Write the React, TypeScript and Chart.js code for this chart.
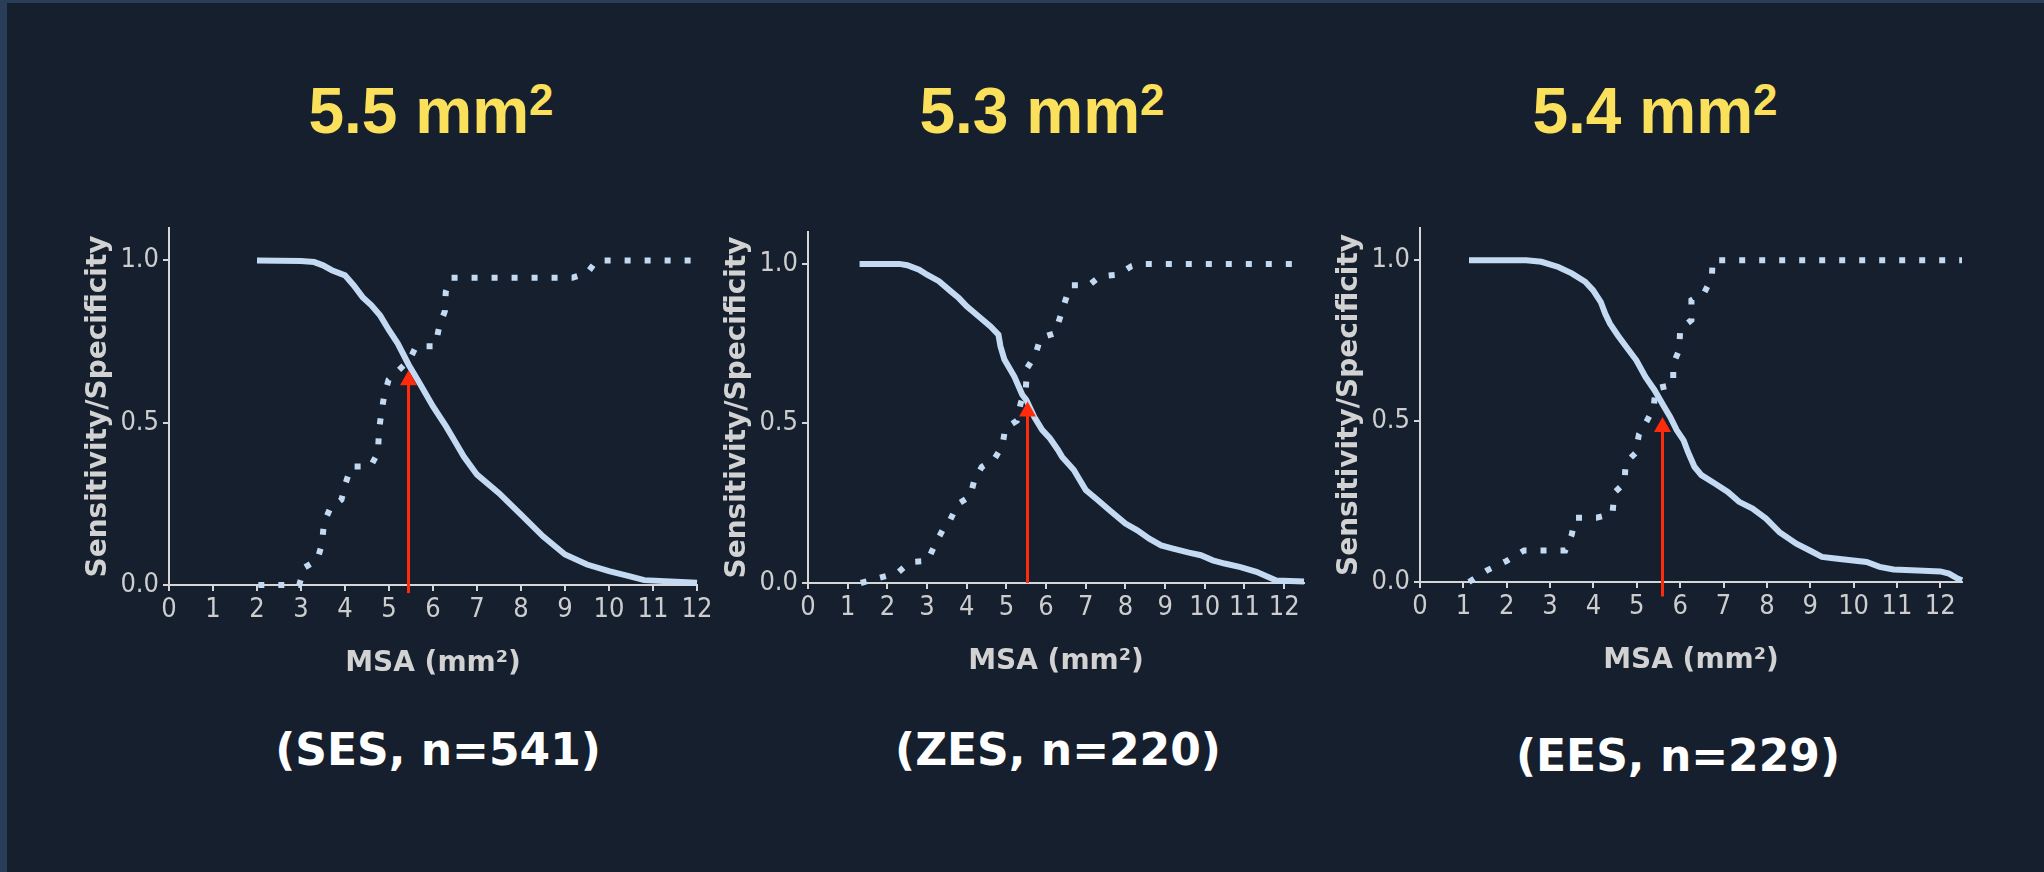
import React, { useEffect, useRef } from 'react';
import { Chart, registerables } from 'chart.js';

Chart.register(...registerables);

// ---------- data ----------
const cutoffTitles = ['5.5', '5.3', '5.4'];
const groupLabels = ['(SES, n=541)', '(ZES, n=220)', '(EES, n=229)'];
const xTickValues = [0, 1, 2, 3, 4, 5, 6, 7, 8, 9, 10, 11, 12];
const yTickValues = [0, 0.5, 1.0];
const xMaxes = [12, 12.5, 12.5];
const xAxisTitle = 'MSA (mm²)';
const yAxisTitle = 'Sensitivity/Specificity';

// SES – sensitivity (solid) and specificity (dotted)
const sesSensX = [2.0, 3.0, 3.3, 3.5, 3.7, 4.0, 4.2, 4.4, 4.6, 4.8, 5.0, 5.2, 5.45, 5.7, 6.0, 6.3, 6.5, 6.7, 7.0, 7.5, 8.0, 8.5, 9.0, 9.5, 10.0, 10.5, 10.8, 12.0];
const sesSensY = [1.0, 0.998, 0.995, 0.985, 0.97, 0.954, 0.923, 0.887, 0.862, 0.83, 0.785, 0.744, 0.678, 0.621, 0.55, 0.488, 0.442, 0.396, 0.34, 0.283, 0.217, 0.15, 0.094, 0.063, 0.043, 0.026, 0.015, 0.007];
const sesSpecX = [2.03, 2.96, 3.07, 3.37, 3.48, 3.52, 3.66, 3.92, 4.02, 4.14, 4.58, 4.75, 4.77, 4.82, 4.89, 4.99, 5.46, 5.62, 6.05, 6.14, 6.27, 6.29, 6.41, 9.17, 9.51, 9.72, 12.0];
const sesSpecY = [0, 0, 0.053, 0.077, 0.128, 0.191, 0.235, 0.263, 0.316, 0.365, 0.365, 0.408, 0.47, 0.526, 0.583, 0.632, 0.693, 0.736, 0.736, 0.795, 0.844, 0.903, 0.947, 0.947, 0.962, 1.0, 1.0];

// ZES
const zesSensX = [1.3, 2.3, 2.5, 2.8, 3.0, 3.3, 3.6, 3.8, 4.0, 4.2, 4.4, 4.6, 4.8, 4.85, 4.95, 5.2, 5.4, 5.5, 5.7, 5.9, 6.1, 6.3, 6.4, 6.7, 6.8, 7.0, 7.3, 7.6, 8.0, 8.3, 8.6, 8.9, 9.2, 9.6, 9.9, 10.2, 10.5, 10.9, 11.3, 11.6, 11.8, 12.5];
const zesSensY = [1.0, 1.0, 0.996, 0.982, 0.966, 0.946, 0.914, 0.893, 0.867, 0.846, 0.825, 0.804, 0.778, 0.742, 0.70, 0.647, 0.59, 0.574, 0.521, 0.48, 0.453, 0.417, 0.396, 0.354, 0.333, 0.291, 0.26, 0.228, 0.186, 0.165, 0.139, 0.118, 0.108, 0.095, 0.087, 0.071, 0.061, 0.05, 0.035, 0.019, 0.008, 0.005];
const zesSpecX = [1.33, 1.79, 2.25, 2.57, 3.01, 3.19, 3.39, 3.59, 3.77, 4.09, 4.19, 4.38, 4.69, 4.9, 4.97, 5.26, 5.36, 5.49, 5.52, 5.73, 5.86, 6.23, 6.35, 6.48, 6.61, 7.08, 7.36, 7.81, 8.15, 8.33, 12.5];
const zesSpecY = [0, 0.016, 0.031, 0.066, 0.069, 0.118, 0.165, 0.199, 0.247, 0.272, 0.322, 0.364, 0.387, 0.43, 0.485, 0.508, 0.563, 0.61, 0.673, 0.715, 0.768, 0.783, 0.832, 0.883, 0.933, 0.933, 0.961, 0.966, 0.993, 1.0, 1.0];

// EES
const eesSensX = [1.13, 2.45, 2.8, 3.19, 3.5, 3.81, 3.99, 4.17, 4.27, 4.38, 4.56, 4.79, 4.99, 5.2, 5.41, 5.61, 5.77, 5.92, 6.08, 6.18, 6.33, 6.49, 6.8, 7.1, 7.36, 7.67, 7.98, 8.29, 8.68, 8.99, 9.27, 9.58, 9.99, 10.3, 10.6, 10.92, 11.48, 12.0, 12.2, 12.41, 12.5];
const eesSensY = [1.0, 1.0, 0.995, 0.979, 0.959, 0.933, 0.907, 0.87, 0.834, 0.803, 0.767, 0.725, 0.689, 0.637, 0.596, 0.549, 0.513, 0.472, 0.44, 0.404, 0.358, 0.332, 0.306, 0.28, 0.249, 0.228, 0.197, 0.155, 0.119, 0.098, 0.078, 0.073, 0.067, 0.062, 0.047, 0.039, 0.036, 0.033, 0.026, 0.01, 0.005];
const eesSpecX = [1.13, 1.545, 1.99, 2.4, 2.88, 3.35, 3.5, 3.58, 4.07, 4.44, 4.48, 4.72, 4.74, 4.97, 5.05, 5.23, 5.39, 5.43, 5.84, 5.84, 5.98, 6.0, 6.26, 6.26, 6.56, 6.73, 6.75, 12.5];
const eesSpecY = [0, 0.036, 0.065, 0.098, 0.098, 0.098, 0.147, 0.2, 0.2, 0.212, 0.277, 0.308, 0.37, 0.401, 0.459, 0.5, 0.541, 0.601, 0.613, 0.677, 0.722, 0.785, 0.814, 0.876, 0.9, 0.946, 1.0, 1.0];

// red arrows: x position, tip value, bottom value
const arrowX = [5.43, 5.52, 5.57];
const arrowTip = [0.662, 0.569, 0.513];
const arrowBottom = [-0.025, 0, -0.045];

// ---------- styling / layout ----------
const BG = '#151f2e';
const EDGE = '#2a3d58';
const CURVE = '#c4daf3';
const AXIS = '#d6d6d6';
const TICK_TEXT = '#cdcdcd';
const YELLOW = '#fbe05c';
const RED = '#ff2b0c';
const TICK_FONT = "'DejaVu Sans Condensed', 'Liberation Sans', sans-serif";

const panelBoxes = [
  { left: 69, top: 198, width: 658, height: 487 },
  { left: 708, top: 202, width: 626, height: 481 },
  { left: 1320, top: 198, width: 672, height: 484 },
];
const titleCenters = [431, 1042, 1655];
const labelPos = [
  { cx: 438, top: 728 },
  { cx: 1058, top: 728 },
  { cx: 1678, top: 734 },
];

const zip = (xs: number[], ys: number[]) => xs.map((x, i) => ({ x, y: ys[i] }));

const series = [
  { sens: zip(sesSensX, sesSensY), spec: zip(sesSpecX, sesSpecY) },
  { sens: zip(zesSensX, zesSensY), spec: zip(zesSpecX, zesSpecY) },
  { sens: zip(eesSensX, eesSensY), spec: zip(eesSpecX, eesSpecY) },
];

const arrowPlugin = {
  id: 'cutArrow',
  afterDatasetsDraw(chart: any, _args: any, opts: any) {
    const { ctx, scales } = chart;
    const px = Math.round(scales.x.getPixelForValue(opts.x)) + 0.5;
    const pTip = scales.y.getPixelForValue(opts.tip);
    const pBot = scales.y.getPixelForValue(opts.bottom);
    const h = 15;
    const w = 17;
    ctx.save();
    ctx.strokeStyle = RED;
    ctx.lineWidth = 3;
    ctx.beginPath();
    ctx.moveTo(px, pBot);
    ctx.lineTo(px, pTip + h - 1);
    ctx.stroke();
    ctx.fillStyle = RED;
    ctx.beginPath();
    ctx.moveTo(px, pTip);
    ctx.lineTo(px - w / 2, pTip + h);
    ctx.lineTo(px + w / 2, pTip + h);
    ctx.closePath();
    ctx.fill();
    ctx.restore();
  },
};

function Panel({ idx }: { idx: number }) {
  const ref = useRef<HTMLCanvasElement | null>(null);
  const box = panelBoxes[idx];
  useEffect(() => {
    if (!ref.current) return;
    const s = series[idx];
    const chart = new Chart(ref.current, {
      type: 'line',
      data: {
        datasets: [
          {
            data: s.sens,
            borderColor: CURVE,
            borderWidth: 6,
            pointRadius: 0,
            tension: 0,
            clip: false as any,
            borderCapStyle: 'butt',
          },
          {
            data: s.spec,
            borderColor: CURVE,
            borderWidth: 6,
            borderDash: [6, 14],
            pointRadius: 0,
            tension: 0,
            clip: false as any,
            borderCapStyle: 'butt',
          },
        ],
      },
      options: {
        animation: false,
        responsive: false,
        devicePixelRatio: 1,
        parsing: false,
        layout: { padding: { top: 30, right: 30, left: 0, bottom: 0 } },
        plugins: {
          legend: { display: false },
          tooltip: { enabled: false },
          cutArrow: { x: arrowX[idx], tip: arrowTip[idx], bottom: arrowBottom[idx] },
        } as any,
        scales: {
          x: {
            type: 'linear',
            min: 0,
            max: xMaxes[idx],
            afterBuildTicks: (sc: any) => {
              sc.ticks = xTickValues.map((v) => ({ value: v }));
            },
            afterFit: (sc: any) => {
              sc.height = 100;
            },
            grid: {
              display: true,
              drawOnChartArea: false,
              drawTicks: true,
              tickLength: 6,
              color: AXIS,
              lineWidth: 2,
            },
            border: { display: true, color: AXIS, width: 2 },
            ticks: {
              color: TICK_TEXT,
              font: { family: TICK_FONT, size: 27 },
              padding: 3,
              maxRotation: 0,
              autoSkip: false,
              callback: (v: any) => String(v),
            },
            title: {
              display: true,
              text: xAxisTitle,
              color: '#d2d2d2',
              font: { family: 'DejaVu Sans', weight: 'bold', size: 28 },
              padding: { top: 0, bottom: 4 },
            },
          },
          y: {
            type: 'linear',
            min: 0,
            max: 1.1,
            afterBuildTicks: (sc: any) => {
              sc.ticks = yTickValues.map((v) => ({ value: v }));
            },
            afterFit: (sc: any) => {
              sc.width = 100;
            },
            grid: {
              display: true,
              drawOnChartArea: false,
              drawTicks: true,
              tickLength: 6,
              color: AXIS,
              lineWidth: 2,
            },
            border: { display: true, color: AXIS, width: 2 },
            ticks: {
              color: TICK_TEXT,
              font: { family: TICK_FONT, size: 27 },
              padding: 4,
              callback: (v: any) => Number(v).toFixed(1),
            },
            title: {
              display: true,
              text: yAxisTitle,
              color: '#d2d2d2',
              font: { family: 'DejaVu Sans', weight: 'bold', size: 28 },
              padding: { top: 13, bottom: 0 },
            },
          },
        },
      },
      plugins: [arrowPlugin as any],
    });
    return () => chart.destroy();
  }, [idx]);
  return (
    <canvas
      ref={ref}
      width={box.width}
      height={box.height}
      style={{
        position: 'absolute',
        left: box.left,
        top: box.top,
        width: box.width,
        height: box.height,
      }}
    />
  );
}

export default function App() {
  return (
    <div
      style={{
        position: 'absolute',
        left: 0,
        top: 0,
        width: 2044,
        height: 872,
        background: BG,
        overflow: 'hidden',
      }}
    >
      <div style={{ position: 'absolute', left: 0, top: 0, width: 2044, height: 3, background: EDGE }} />
      <div style={{ position: 'absolute', left: 0, top: 0, width: 7, height: 872, background: EDGE }} />
      {cutoffTitles.map((t, i) => (
        <div
          key={'t' + i}
          style={{
            position: 'absolute',
            left: titleCenters[i] - 200,
            width: 400,
            top: 79,
            textAlign: 'center',
            fontFamily: 'Liberation Sans, Arial, sans-serif',
            fontWeight: 'bold',
            fontSize: 64,
            lineHeight: '64px',
            color: YELLOW,
            whiteSpace: 'nowrap',
          }}
        >
          {t} mm
          <span style={{ fontSize: 44, position: 'relative', top: -18 }}>2</span>
        </div>
      ))}
      {[0, 1, 2].map((i) => (
        <Panel key={'p' + i} idx={i} />
      ))}
      {groupLabels.map((t, i) => (
        <div
          key={'g' + i}
          style={{
            position: 'absolute',
            left: labelPos[i].cx - 250,
            width: 500,
            top: labelPos[i].top,
            textAlign: 'center',
            fontFamily: 'DejaVu Sans, sans-serif',
            fontWeight: 'bold',
            fontSize: 44,
            lineHeight: '44px',
            color: '#ffffff',
            whiteSpace: 'nowrap',
          }}
        >
          {t}
        </div>
      ))}
    </div>
  );
}
